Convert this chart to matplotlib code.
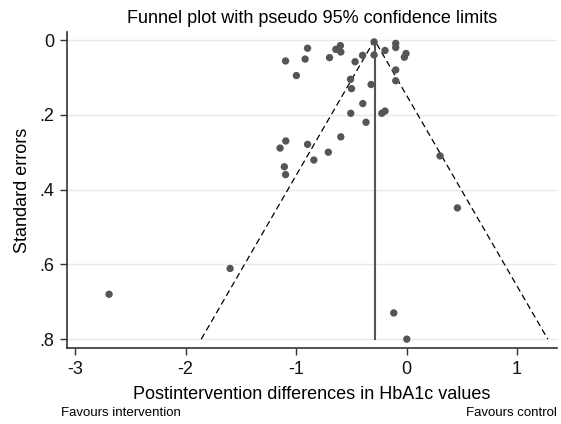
import matplotlib
matplotlib.use('Agg')
import matplotlib.pyplot as plt
import numpy as np

plt.rcParams['font.family'] = ['Liberation Sans', 'DejaVu Sans']
plt.rcParams['axes.unicode_minus'] = False

# study effects (difference in HbA1c) and their standard errors
effect = [-1.095, -0.997, -0.918, -0.896, -0.697, -0.640, -0.599, -0.595, -0.466, -0.398,
          -0.294, -0.294, -0.195, -0.098, -0.098, -0.005, -0.020, -0.098, -0.098, -0.507,
          -0.498, -0.321, -0.396, -0.505, -0.224, -0.195, -0.367, -0.595, -0.708, -0.839,
          -0.896, -1.093, -1.145, -1.106, -1.095, 0.303, 0.460, -1.597, -2.692, -0.116,
          0.002]
se = [0.056, 0.095, 0.051, 0.022, 0.047, 0.025, 0.015, 0.032, 0.058, 0.041,
      0.005, 0.040, 0.028, 0.009, 0.020, 0.036, 0.046, 0.080, 0.109, 0.105,
      0.130, 0.119, 0.170, 0.196, 0.196, 0.190, 0.220, 0.259, 0.300, 0.321,
      0.279, 0.270, 0.289, 0.339, 0.360, 0.310, 0.449, 0.611, 0.680, 0.730,
      0.800]
pooled = -0.29
se_max = 0.8

xticks = [-3, -2, -1, 0, 1]
yticks = [0, 0.2, 0.4, 0.6, 0.8]
ytick_labels = ['0', '.2', '.4', '.6', '.8']

fig = plt.figure(figsize=(5.61, 4.24), dpi=100)
ax = fig.add_axes([0.119, 0.179, 0.874, 0.746])

grid_c = '#e9e9e9'
axis_c = '#333333'
for y in yticks:
    ax.axhline(y, color=grid_c, lw=1, zorder=0)

# pseudo 95% confidence limits
ax.plot([pooled - 1.96 * se_max, pooled, pooled + 1.96 * se_max], [se_max, 0, se_max],
        color='black', lw=0.9, ls=(0, (5, 3)), zorder=2)
ax.plot([pooled, pooled], [0, se_max], color='#555555', lw=1.5, zorder=2)

ax.scatter(effect, se, s=28, color='#555555', edgecolors='none', zorder=3)

ax.set_xlim(-3.075, 1.362)
ax.set_ylim(0.824, -0.022)
ax.set_xticks(xticks)
ax.set_xticklabels([str(t) for t in xticks])
ax.set_yticks(yticks)
ax.set_yticklabels(ytick_labels)

for s in ['top', 'right']:
    ax.spines[s].set_visible(False)
for s in ['left', 'bottom']:
    ax.spines[s].set_color(axis_c)
    ax.spines[s].set_linewidth(1.2)
ax.tick_params(direction='out', length=5, width=1, color=axis_c,
               labelsize=13, labelcolor='#111111', pad=4)

ax.set_xlabel('Postintervention differences in HbA1c values', fontsize=13, labelpad=6)
ax.set_ylabel('Standard errors', fontsize=13, labelpad=6)
ax.set_title('Funnel plot with pseudo 95% confidence limits', fontsize=13, pad=6)

fig.text(0.109, 0.027, 'Favours intervention', fontsize=9.5, ha='left', va='center')
fig.text(0.993, 0.027, 'Favours control', fontsize=9.5, ha='right', va='center')

fig.savefig('out.png', dpi=100)
